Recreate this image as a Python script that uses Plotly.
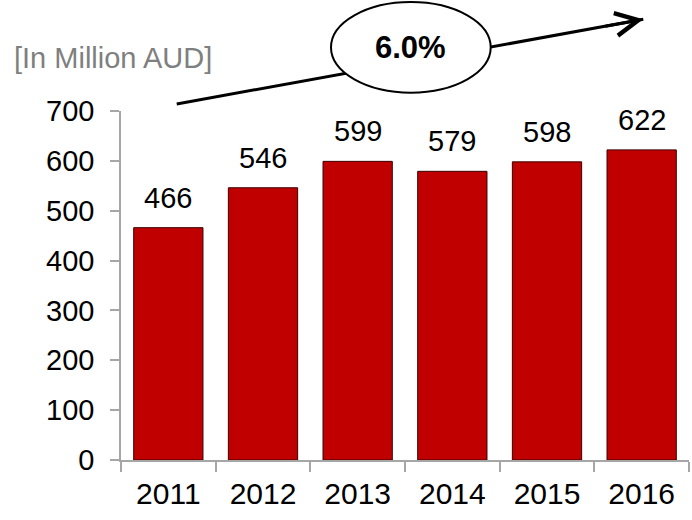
import plotly.graph_objects as go

# Revenue by year, in million AUD
years = ["2011", "2012", "2013", "2014", "2015", "2016"]
revenue = [466, 546, 599, 579, 598, 622]
growth_label = "6.0%"
unit_label = "[In Million AUD]"

FONT = "Liberation Sans, Arial, sans-serif"
BAR_RED = "#C00000"
AXIS_GRAY = "#A6A6A6"

fig = go.Figure()
fig.add_trace(go.Bar(
    x=years,
    y=revenue,
    marker=dict(color=BAR_RED, line=dict(color="#3a0000", width=1)),
    hoverinfo="x+y",
))

# value labels above each bar (category index keeps numeric-looking names on their bars)
for i, val in enumerate(revenue):
    fig.add_annotation(
        x=i, y=val, text=str(val), showarrow=False,
        xref="x", yref="y", yanchor="bottom", yshift=12,
        font=dict(family=FONT, size=29, color="#000000"),
    )

# growth arrow: shaft, head, then the ellipse label over the shaft
fig.add_shape(
    type="line", xref="paper", yref="paper",
    x0=0.0981, y0=1.0201, x1=0.9195, y1=1.2627,
    line=dict(color="#000000", width=3), layer="above",
)
fig.add_annotation(
    x=0.9195, y=1.2627, xref="paper", yref="paper",
    ax=-39.4, ay=7.2, axref="pixel", ayref="pixel",
    text="", showarrow=True, arrowhead=5, arrowsize=1.5,
    arrowwidth=3, arrowcolor="#000000", standoff=0,
)
fig.add_shape(
    type="circle", xref="paper", yref="paper",
    x0=0.3697, x1=0.6509, y0=1.0524, y1=1.3123,
    fillcolor="#FFFFFF", line=dict(color="#000000", width=2), layer="above",
)
fig.add_annotation(
    x=0.5103, y=1.1824, xref="paper", yref="paper",
    text="<b>" + growth_label + "</b>", showarrow=False,
    xanchor="center", yanchor="middle",
    font=dict(family=FONT, size=31, color="#000000"),
)

# unit caption
fig.add_annotation(
    x=-0.1919, y=1.152, xref="paper", yref="paper",
    text=unit_label, showarrow=False,
    xanchor="left", yanchor="middle",
    font=dict(family=FONT, size=29, color="#7F7F7F"),
)

fig.update_layout(
    width=692, height=520,
    margin=dict(l=121, r=3, t=111, b=60),
    plot_bgcolor="#FFFFFF", paper_bgcolor="#FFFFFF",
    bargap=0.268,
    showlegend=False,
    font=dict(family=FONT, size=29, color="#000000"),
)
fig.update_xaxes(
    type="category", range=[-0.5, 5.5],
    showline=True, linecolor=AXIS_GRAY, linewidth=1.5,
    ticks="outside", tickson="boundaries", ticklen=10, tickcolor=AXIS_GRAY, tickwidth=1.5,
    showgrid=False, zeroline=False,
    tickfont=dict(family=FONT, size=30, color="#000000"),
    ticklabelstandoff=6,
)
fig.update_yaxes(
    range=[0, 700], dtick=100, tick0=0,
    showline=True, linecolor=AXIS_GRAY, linewidth=1.5,
    ticks="outside", ticklen=9, tickcolor=AXIS_GRAY, tickwidth=1.5,
    showgrid=False, zeroline=False,
    tickfont=dict(family=FONT, size=29, color="#000000"),
    ticklabelstandoff=10,
)

fig.write_html("out.html")
